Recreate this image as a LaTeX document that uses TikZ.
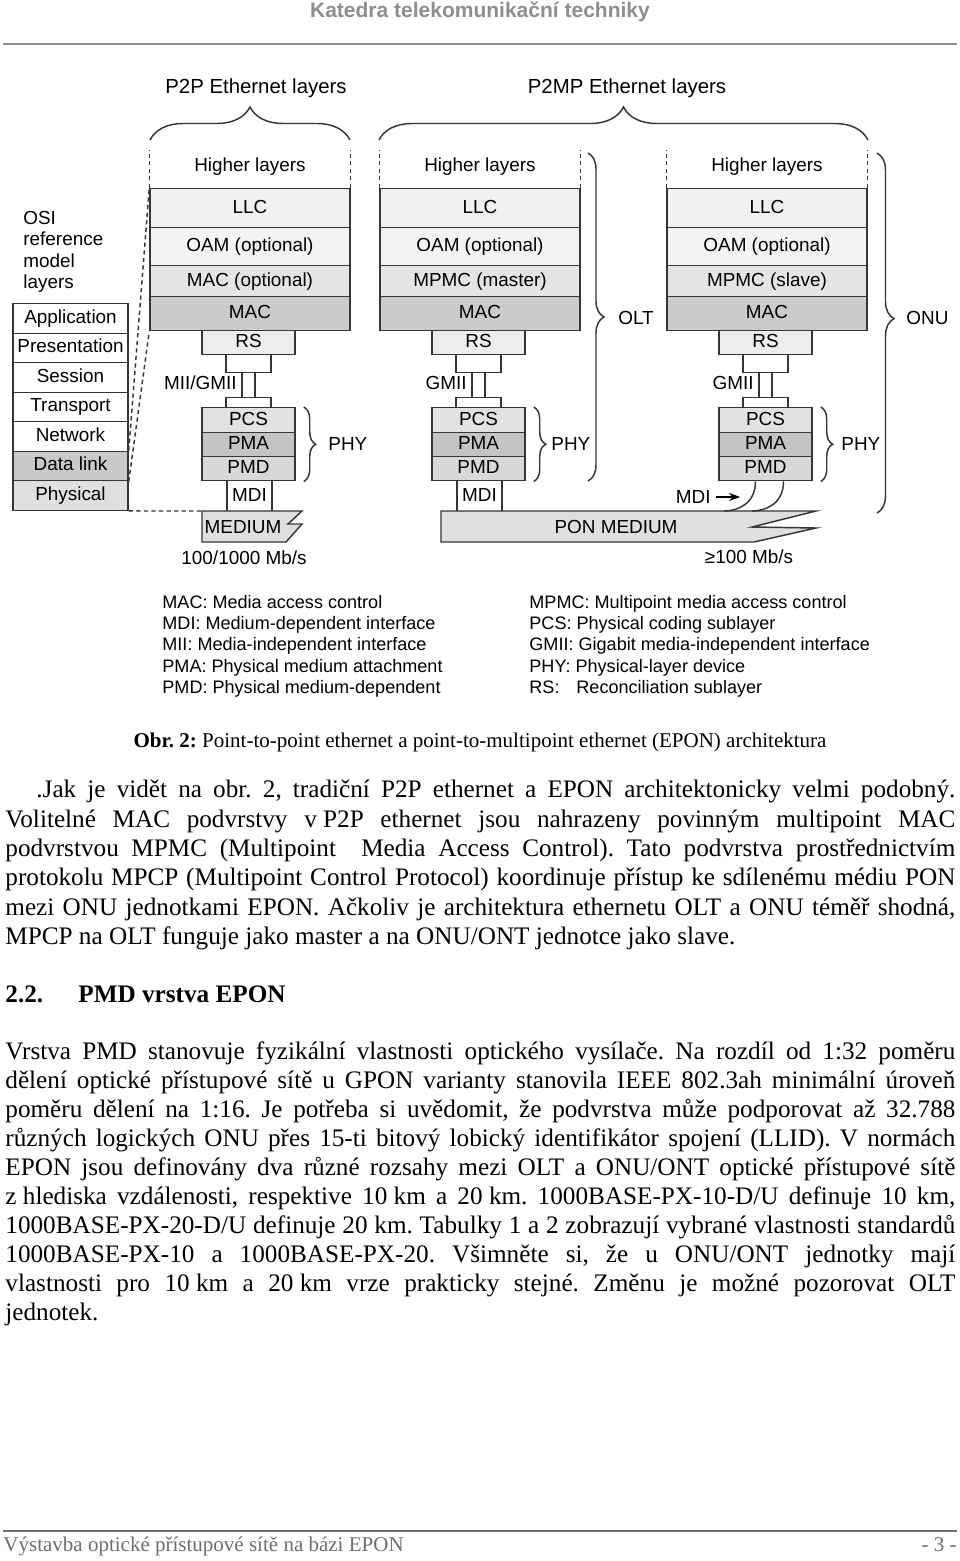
\documentclass[tikz,border=0pt]{standalone}
\usepackage{fontspec}
\setmainfont{Liberation Serif}
\setsansfont{Liberation Sans}
\usetikzlibrary{decorations.pathreplacing,arrows.meta}
\frenchspacing

\newlength\pxu \setlength\pxu{0.476pt}
\newcommand\jl[2]{\makebox[#1\pxu][s]{#2}}
\newcommand\nb{\hspace{0.25em}}

\definecolor{edge}{HTML}{363636}
\definecolor{fllc}{HTML}{F1F1F1}
\definecolor{foam}{HTML}{F3F3F3}
\definecolor{fmpc}{HTML}{E4E4E4}
\definecolor{fmac}{HTML}{CBCBCB}
\definecolor{frs}{HTML}{EDEDED}
\definecolor{fpcs}{HTML}{E2E2E2}
\definecolor{fpma}{HTML}{C4C4C4}
\definecolor{fpmd}{HTML}{D8D8D8}
\definecolor{fdl}{HTML}{C9C9C9}
\definecolor{fphl}{HTML}{E0E0E0}
\definecolor{fmed}{HTML}{DFDFDF}
\definecolor{hdgray}{HTML}{8E8E8E}
\definecolor{ftgray}{HTML}{6E6E6E}

\tikzset{
  box/.style={draw=edge, line width=0.7pt},
  lab/.style={inner sep=0pt, font=\sffamily\fontsize{9}{10}\selectfont},
  ttl/.style={inner sep=0pt, font=\sffamily\fontsize{9.7}{11}\selectfont},
  lgd/.style={inner sep=0pt, anchor=base west, font=\sffamily\fontsize{8.6}{10}\selectfont},
  lay/.style={box, lab, anchor=north, text height=6.6pt, text depth=1.9pt, minimum width=200\pxu},
  stk/.style={lay, minimum width=93\pxu},
  plug/.style={lay, fill=white, minimum width=45\pxu},
  osibox/.style={lay, minimum width=115\pxu, minimum height=29.5\pxu},
  wire/.style={draw=edge, line width=0.7pt},
  dsh/.style={draw=edge, line width=0.7pt, dash pattern=on 2pt off 1.6pt},
  brc/.style={draw=edge, line width=0.7pt, decorate, decoration={brace, amplitude=#1}},
  txt/.style={inner sep=0pt, anchor=base west, font=\fontsize{12}{14}\selectfont}
}

\begin{document}
\begin{tikzpicture}[x=\pxu, y=-\pxu, >=Stealth]
  \useasboundingbox (0,0) rectangle (960,1561);

  % header
  \node[anchor=base, inner sep=0pt, text=hdgray, font=\sffamily\bfseries\fontsize{10}{12}\selectfont] (hdr) at (480,17) {Katedra telekomunikační techniky};
  \draw[hdgray, line width=2.5\pxu] (3,44) -- (957,44);

  % titles
  \node[ttl] (p2pttl) at (256,88) {P2P Ethernet layers};
  \node[ttl] (p2mpttl) at (627,88) {P2MP Ethernet layers};
  \draw[brc=33\pxu] (150,140) -- (350,140);
  \draw[brc=33\pxu] (379,140) -- (868,140);

  % the three stacks
  \foreach \c/\x/\t/\g/\h in {p/250/MAC (optional)/MII\slash GMII/33, o/480/MPMC (master)/GMII/26, u/767/MPMC (slave)/GMII/29}{
    \node[lab] (\c hl) at (\x,167) {Higher layers};
    \node[lay, fill=fllc, minimum height=39\pxu] (\c llc) at (\x,188) {LLC};
    \node[lay, fill=foam, minimum height=38\pxu] (\c oam) at (\x,227) {OAM (optional)};
    \node[lay, fill=fmpc, minimum height=31\pxu] (\c mpc) at (\x,265) {\t};
    \node[lay, fill=fmac, minimum height=34\pxu] (\c mac) at (\x,296) {MAC};
    \draw[dsh] (\c llc.north west) -- ++(0,-38);
    \draw[dsh] (\c llc.north east) -- ++(0,-38);
    \node[stk, fill=frs, minimum height=24\pxu] (\c rs) at (\x-1.5,330) {RS};
    \node[plug, minimum height=12\pxu] (\c pa) at (\x-1.5,354) {};
    \node[plug, minimum height=10\pxu] (\c pb) at (\x-1.5,397) {};
    \draw[wire] ([xshift=-6.5\pxu]\c pa.south) -- ([xshift=-6.5\pxu]\c pb.north);
    \draw[wire] ([xshift=6.5\pxu]\c pa.south) -- ([xshift=6.5\pxu]\c pb.north);
    \node[lab, anchor=east] (\c gm) at (\x-13,383) {\g};
    \node[stk, fill=fpcs, minimum height=25\pxu] (\c pcs) at (\x-1.5,407) {PCS};
    \node[stk, fill=fpma, minimum height=24\pxu] (\c pma) at (\x-1.5,432) {PMA};
    \node[stk, fill=fpmd, minimum height=24\pxu] (\c pmd) at (\x-1.5,456) {PMD};
    \draw[brc=12\pxu] ([xshift=8\pxu]\c pcs.north east) -- ([xshift=8\pxu]\c pmd.south east);
    \node[lab, anchor=west] (\c phy) at (\x+45+\h,444) {PHY};
  }

  % OLT and ONU braces
  \draw[brc=16\pxu] (588,153) -- (588,481);
  \node[lab, anchor=west] (olt) at (618,318) {OLT};
  \draw[brc=17\pxu, decoration={aspect=0.46}] (877,153) -- (877,513);
  \node[lab, anchor=west] (onu) at (906,318) {ONU};

  % P2P medium
  \node[plug, minimum height=31\pxu] (pmdi) at (249.5,480) {MDI};
  \draw[box, fill=fmed] (202,511) coordinate (medtl) -- (302,511) -- (288,524) -- (302,524) -- (286,542) -- (202,542) -- cycle;
  \node[lab] (med) at (243,527) {MEDIUM};
  \node[lab] (medrate) at (244,558) {100/1000 Mb/s};

  % PON medium
  \node[plug, minimum height=31\pxu] (omdi) at (479.5,480) {MDI};
  \draw[box, fill=fmed] (441,511) -- (816,511) -- (752,527) -- (816,528) -- (754,542) -- (441,542) -- cycle;
  \node[lab] (pon) at (616,527) {PON MEDIUM};
  \node[lab] (ponrate) at (749,557) {≥100 Mb/s};
  \draw[wire] ([xshift=-10\pxu]upmd.south) .. controls +(0,22) and +(14,0) .. (724,511);
  \draw[wire] ([xshift=18\pxu]upmd.south) .. controls +(0,22) and +(14,0) .. (752,511);
  \node[lab, anchor=east] (umdi) at (711,497) {MDI};
  \coordinate (umditip) at (740,497);
  \draw[->, line width=0.5pt] ([xshift=5\pxu]umdi.east) -- (umditip);

  % OSI model
  \node[lab, align=left, anchor=north west, font=\sffamily\fontsize{9}{10.1}\selectfont] (osilbl) at (23,211) {OSI\\reference\\model\\layers};
  \foreach \t/\n/\f [count=\i from 0] in {Application/app/white, Presentation/pres/white, Session/sess/white, Transport/trans/white, Network/netw/white, Data link/dlink/fdl, Physical/physl/fphl}
    \node[osibox, fill=\f] (\n) at (70.5,303+29.5*\i) {\t};
  \draw[dsh] (dlink.north east) -- (pllc.north west);
  \draw[dsh] (dlink.south east) -- (pmac.south west);
  \draw[dsh] (physl.south east) -- (medtl);

  % legend
  \node[lgd] (lg1) at (162,608) {MAC: Media access control};
  \node[lgd] (lg2) at (162,629) {MDI: Medium-dependent interface};
  \node[lgd] (lg3) at (162,650) {MII: Media-independent interface};
  \node[lgd] (lg4) at (162,672) {PMA: Physical medium attachment};
  \node[lgd] (lg5) at (162,693) {PMD: Physical medium-dependent};
  \node[lgd] (lg6) at (529,608) {MPMC: Multipoint media access control};
  \node[lgd] (lg7) at (529,629) {PCS: Physical coding sublayer};
  \node[lgd] (lg8) at (529,650) {GMII: Gigabit media-independent interface};
  \node[lgd] (lg9) at (529,672) {PHY: Physical-layer device};
  \node[lgd] (lg10) at (529,693) {\makebox[47\pxu][l]{RS:}Reconciliation sublayer};

  % caption
  \node[inner sep=0pt, anchor=base, font=\fontsize{10}{12}\selectfont] (cap) at (480,747) {\textbf{Obr. 2:} Point-to-point ethernet a point-to-multipoint ethernet (EPON) architektura};

  % text
  \node[txt] (t1) at (36,797) {\jl{919}{.Jak je vidět na obr. 2, tradiční P2P ethernet a EPON architektonicky velmi podobný.}};
  \node[txt] (t2) at (5,827) {\jl{950}{Volitelné MAC podvrstvy v\nb P2P ethernet jsou nahrazeny povinným multipoint MAC}};
  \node[txt] (t3) at (5,856) {\jl{950}{podvrstvou MPMC (Multipoint\ \ Media Access Control). Tato podvrstva prostřednictvím}};
  \node[txt] (t4) at (5,885) {\jl{950}{protokolu MPCP (Multipoint Control Protocol) koordinuje přístup ke sdílenému médiu PON}};
  \node[txt] (t5) at (5,915) {\jl{950}{mezi ONU jednotkami EPON. Ačkoliv je architektura ethernetu OLT a ONU téměř shodná,}};
  \node[txt] (t6) at (5,944) {MPCP na OLT funguje jako master a na ONU/ONT jednotce jako slave.};

  \node[txt, font=\bfseries\fontsize{12}{14}\selectfont] (secno) at (5,1002) {2.2.};
  \node[txt, font=\bfseries\fontsize{12}{14}\selectfont] (sec) at (78,1002) {PMD vrstva EPON};

  \node[txt] (u1) at (5,1059) {\jl{950}{Vrstva PMD stanovuje fyzikální vlastnosti optického vysílače. Na rozdíl od 1:32 poměru}};
  \node[txt] (u2) at (5,1088) {\jl{950}{dělení optické přístupové sítě u GPON varianty stanovila IEEE 802.3ah minimální úroveň}};
  \node[txt] (u3) at (5,1117) {\jl{950}{poměru dělení na 1:16. Je potřeba si uvědomit, že podvrstva může podporovat až 32.788}};
  \node[txt] (u4) at (5,1146) {\jl{950}{různých logických ONU přes 15-ti bitový lobický identifikátor spojení (LLID). V normách}};
  \node[txt] (u5) at (5,1175) {\jl{950}{EPON jsou definovány dva různé rozsahy mezi OLT a ONU/ONT optické přístupové sítě}};
  \node[txt] (u6) at (5,1204) {\jl{950}{z\nb hlediska vzdálenosti, respektive 10\nb km a 20\nb km. 1000BASE-PX-10-D/U definuje 10 km,}};
  \node[txt] (u7) at (5,1233) {\jl{950}{1000BASE-PX-20-D/U definuje 20 km. Tabulky 1 a 2 zobrazují vybrané vlastnosti standardů}};
  \node[txt] (u8) at (5,1262) {\jl{950}{1000BASE-PX-10 a 1000BASE-PX-20. Všimněte si, že u ONU/ONT jednotky mají}};
  \node[txt] (u9) at (5,1291) {\jl{950}{vlastnosti pro 10\nb km a 20\nb km vrze prakticky stejné. Změnu je možné pozorovat OLT}};
  \node[txt] (u10) at (5,1320) {jednotek.};

  % footer
  \draw[ftgray, line width=2\pxu] (3,1531) -- (957,1531);
  \node[inner sep=0pt, anchor=base west, text=ftgray, font=\fontsize{10}{12}\selectfont] (ftl) at (3,1551) {Výstavba optické přístupové sítě na bázi EPON};
  \node[inner sep=0pt, anchor=base east, text=ftgray, font=\fontsize{10}{12}\selectfont] (ftr) at (957,1551) {- 3 -};
\end{tikzpicture}
\end{document}
